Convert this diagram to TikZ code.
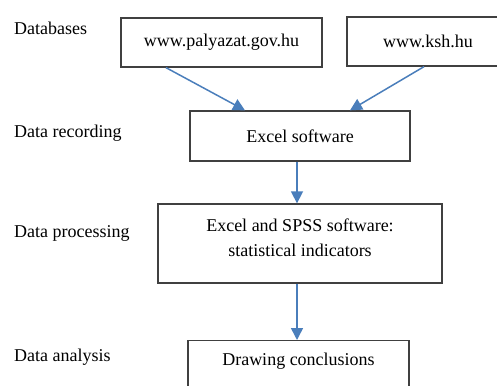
\documentclass[tikz,border=0pt]{standalone}
\usepackage{fontspec}
\setmainfont{Liberation Serif}
\usetikzlibrary{arrows.meta}
\definecolor{boxline}{HTML}{404040}
\definecolor{arrowblue}{HTML}{4A7EBB}
\begin{document}
\begin{tikzpicture}[x=1pt,y=-1pt,
  every node/.style={font=\fontsize{18}{25}\selectfont},
  stepbox/.style={draw=boxline, line width=1.3pt, inner sep=0pt, align=center},
  stagelabel/.style={anchor=base west, inner sep=0pt},
  flow/.style={draw=arrowblue, line width=1.5pt, -{Triangle[length=12pt,width=12pt]}}]
\useasboundingbox (0,0) rectangle (497,385);
\clip (0,0) rectangle (497,385);
% stage labels
\node[stagelabel] (l1) at (14,35) {Databases};
\node[stagelabel] (l2) at (14,137) {Data recording};
\node[stagelabel] (l3) at (14,237) {Data processing};
\node[stagelabel] (l4) at (14,361) {Data analysis};
% boxes
\node[stepbox, minimum width=201pt, minimum height=49pt] (b1) at (221.5,42.5) {www.palyazat.gov.hu};
\node[stepbox, minimum width=162pt, minimum height=49pt] (b2) at (428,41.5) {www.ksh.hu};
\node[stepbox, minimum width=220pt, minimum height=50pt] (b3) at (300,136) {Excel software};
\node[stepbox, minimum width=284pt, minimum height=79pt, text depth=12pt] (b4) at (300,243.5) {Excel and SPSS software:\\statistical indicators};
\node[stepbox, minimum width=221pt, anchor=north, inner ysep=4pt, text height=21pt, text depth=25pt] (b5) at (298.5,340) {Drawing conclusions};
% connectors
\draw[flow] ([xshift=-55.5pt]b1.south) -- ([xshift=-55pt]b3.north);
\draw[flow] ([xshift=-4pt]b2.south) -- ([xshift=50pt]b3.north);
\draw[flow] ([xshift=-3pt]b3.south) -- ([xshift=-3pt]b4.north);
\draw[flow] ([xshift=-3pt]b4.south) -- ([xshift=-3pt]b4.south |- b5.north);
\end{tikzpicture}
\end{document}
